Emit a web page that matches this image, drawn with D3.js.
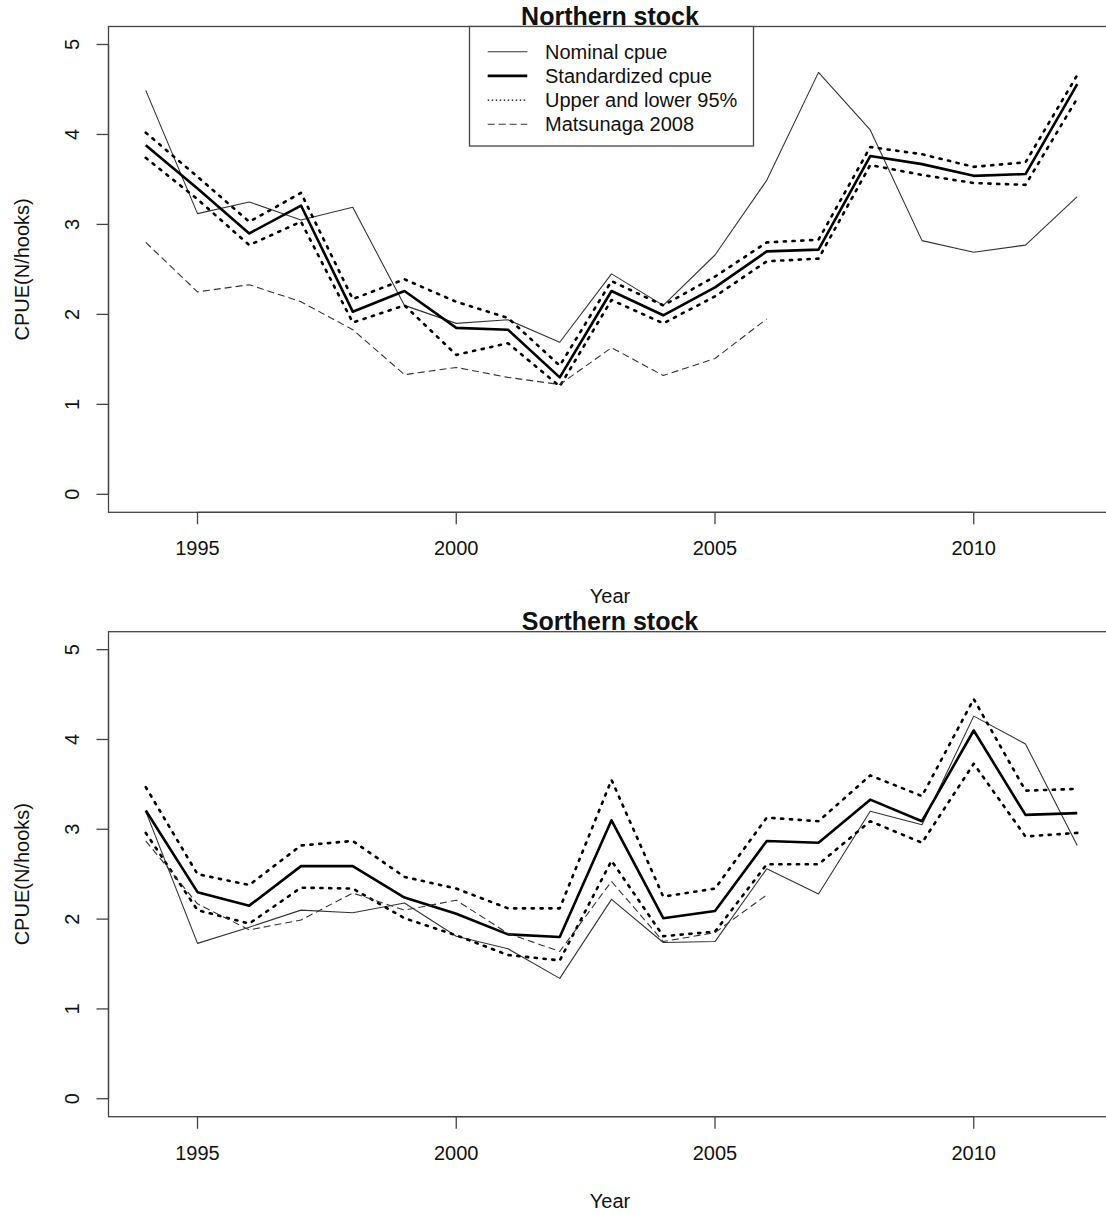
<!DOCTYPE html>
<html lang="en">
  <head>
    <meta charset="UTF-8" />
    <title>CPUE</title>
    <style>
      body { margin: 0; background: #fff; }
      svg text { font-family: "Liberation Sans", Arial, sans-serif; fill: #111; }
    </style>
  </head>
  <body>
    <div id="target"></div>
    <script src="https://d3js.org/d3.v7.js"></script>
    <script>
      // data
      const years = d3.range(1994, 2013);
      const yTicks = [0, 1, 2, 3, 4, 5];
      const xTicks = [1995, 2000, 2005, 2010];

      const northNominal = [4.49, 3.12, 3.25, 3.05, 3.19, 2.10, 1.90, 1.94, 1.69, 2.45, 2.10, 2.66, 3.49, 4.69, 4.05, 2.82, 2.69, 2.77, 3.31];
      const northStd     = [3.88, 3.40, 2.90, 3.21, 2.03, 2.26, 1.85, 1.83, 1.30, 2.26, 1.99, 2.30, 2.70, 2.72, 3.76, 3.67, 3.54, 3.56, 4.56];
      const northUpper   = [4.02, 3.53, 3.03, 3.35, 2.17, 2.39, 2.14, 1.96, 1.43, 2.37, 2.10, 2.42, 2.80, 2.83, 3.86, 3.78, 3.64, 3.69, 4.66];
      const northLower   = [3.74, 3.28, 2.77, 3.03, 1.91, 2.10, 1.55, 1.68, 1.20, 2.16, 1.90, 2.20, 2.59, 2.62, 3.66, 3.55, 3.46, 3.44, 4.40];
      const northMatsu   = [2.80, 2.25, 2.33, 2.14, 1.83, 1.33, 1.41, 1.30, 1.22, 1.63, 1.32, 1.51, 1.95];

      const southNominal = [3.20, 1.73, 1.91, 2.10, 2.07, 2.18, 1.81, 1.67, 1.34, 2.22, 1.74, 1.75, 2.56, 2.28, 3.20, 3.05, 4.26, 3.95, 2.82];
      const southStd     = [3.21, 2.30, 2.15, 2.59, 2.59, 2.24, 2.06, 1.83, 1.80, 3.10, 2.01, 2.09, 2.87, 2.85, 3.33, 3.09, 4.10, 3.16, 3.18];
      const southUpper   = [3.47, 2.50, 2.38, 2.82, 2.87, 2.47, 2.34, 2.12, 2.12, 3.55, 2.25, 2.34, 3.13, 3.09, 3.60, 3.37, 4.45, 3.43, 3.45];
      const southLower   = [2.96, 2.10, 1.95, 2.35, 2.34, 2.01, 1.82, 1.60, 1.54, 2.65, 1.81, 1.86, 2.61, 2.61, 3.09, 2.85, 3.73, 2.92, 2.96];
      const southMatsu   = [2.87, 2.17, 1.88, 1.99, 2.29, 2.10, 2.21, 1.84, 1.64, 2.42, 1.75, 1.85, 2.27];

      const legendLabels = ["Nominal cpue", "Standardized cpue", "Upper and lower 95%", "Matsunaga 2008"];

      // line styles (R-like)
      const styles = {
        nominal: { w: 1.1, dash: null, color: "#333" },
        std: { w: 2.6, dash: null, color: "#000" },
        ci: { w: 2.6, dash: "2.2,6.6", color: "#000" },
        matsu: { w: 1.1, dash: "7,4", color: "#333" },
      };

      const width = 1106, height = 1215;
      const svg = d3.select("#target").append("svg")
        .attr("width", width).attr("height", height);
      svg.append("rect").attr("width", width).attr("height", height).attr("fill", "#fff");

      const x = d3.scaleLinear().domain([1993.28, 2012.72]).range([108.5, 1114.5]);

      function panel(top, bottom, title, series, withLegend) {
        const y = d3.scaleLinear().domain([-0.2, 5.2]).range([bottom, top]);
        const g = svg.append("g");

        const line = d3.line().x((d) => x(d[0])).y((d) => y(d[1]));
        series.forEach(([vals, st]) => {
          g.append("path")
            .attr("d", line(vals.map((v, i) => [years[i], v])))
            .attr("fill", "none")
            .attr("stroke", st.color)
            .attr("stroke-width", st.w)
            .attr("stroke-dasharray", st.dash)
            .attr("stroke-linecap", st.dash && st.w > 2 ? "round" : "butt")
            .attr("stroke-linejoin", "round");
        });

        // box
        g.append("rect")
          .attr("x", x.range()[0]).attr("y", top)
          .attr("width", x.range()[1] - x.range()[0]).attr("height", bottom - top)
          .attr("fill", "none").attr("stroke", "#444").attr("stroke-width", 1.3);

        // y axis
        const left = x.range()[0];
        g.append("line").attr("x1", left).attr("x2", left)
          .attr("y1", y(0)).attr("y2", y(5)).attr("stroke", "#444").attr("stroke-width", 1.3);
        yTicks.forEach((t) => {
          g.append("line").attr("x1", left - 12).attr("x2", left)
            .attr("y1", y(t)).attr("y2", y(t)).attr("stroke", "#444").attr("stroke-width", 1.3);
          g.append("text")
            .attr("transform", `translate(79,${y(t)}) rotate(-90)`)
            .attr("text-anchor", "middle").attr("font-size", 20).text(t);
        });

        // x axis
        g.append("line").attr("x1", x(xTicks[0])).attr("x2", x(xTicks[xTicks.length - 1]))
          .attr("y1", bottom).attr("y2", bottom).attr("stroke", "#444").attr("stroke-width", 1.3);
        xTicks.forEach((t) => {
          g.append("line").attr("x1", x(t)).attr("x2", x(t))
            .attr("y1", bottom).attr("y2", bottom + 12).attr("stroke", "#444").attr("stroke-width", 1.3);
          g.append("text").attr("x", x(t)).attr("y", bottom + 43)
            .attr("text-anchor", "middle").attr("font-size", 20).text(t);
        });

        g.append("text").attr("x", 610).attr("y", bottom + 91)
          .attr("text-anchor", "middle").attr("font-size", 20).text("Year");
        g.append("text")
          .attr("transform", `translate(29,${(top + bottom) / 2 + 0}) rotate(-90)`)
          .attr("text-anchor", "middle").attr("font-size", 20).text("CPUE(N/hooks)");
        g.append("text").attr("x", 610).attr("y", top - 2)
          .attr("text-anchor", "middle").attr("font-size", 25).attr("font-weight", "bold")
          .text(title);

        if (withLegend) {
          const lg = g.append("g");
          lg.append("rect").attr("x", 469.5).attr("y", top).attr("width", 284).attr("height", 146 - top)
            .attr("fill", "#fff").attr("stroke", "#444").attr("stroke-width", 1.3);
          const legStyles = [styles.nominal, styles.std, { w: 1.4, dash: "1.5,2.5", color: "#000" }, styles.matsu];
          legendLabels.forEach((lab, i) => {
            const yy = 51.7 + i * 24.2;
            lg.append("line").attr("x1", 487.7).attr("x2", 527.3).attr("y1", yy).attr("y2", yy)
              .attr("stroke", legStyles[i].color).attr("stroke-width", legStyles[i].w)
              .attr("stroke-dasharray", legStyles[i].dash);
            lg.append("text").attr("x", 545).attr("y", yy + 7).attr("font-size", 20).text(lab);
          });
        }
      }

      panel(26.5, 512.3, "Northern stock", [
        [northNominal, styles.nominal],
        [northStd, styles.std],
        [northUpper, styles.ci],
        [northLower, styles.ci],
        [northMatsu, styles.matsu],
      ], true);

      panel(631.7, 1116.7, "Sorthern stock", [
        [southNominal, styles.nominal],
        [southStd, styles.std],
        [southUpper, styles.ci],
        [southLower, styles.ci],
        [southMatsu, styles.matsu],
      ], false);
    </script>
  </body>
</html>
